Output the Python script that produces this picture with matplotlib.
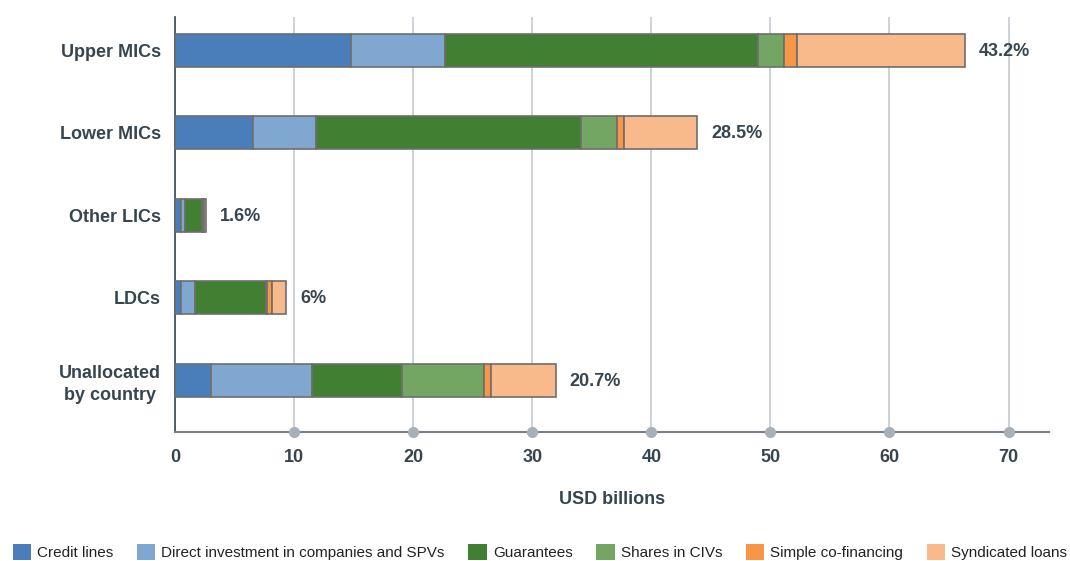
import numpy as np
import matplotlib.pyplot as plt
from matplotlib.patches import Patch

categories = ['Upper MICs', 'Lower MICs', 'Other LICs', 'LDCs', 'Unallocated\nby country']
series_names = ['Credit lines', 'Direct investment in companies and SPVs', 'Guarantees',
                'Shares in CIVs', 'Simple co-financing', 'Syndicated loans']
credit_lines = [14.76, 6.54, 0.48, 0.50, 3.00]
direct_invest = [7.91, 5.27, 0.33, 1.21, 8.53]
guarantees = [26.29, 22.28, 1.46, 5.92, 7.49]
shares_civs = [2.14, 3.01, 0.10, 0.07, 6.93]
simple_cofin = [1.15, 0.60, 0.10, 0.44, 0.62]
syndicated = [14.11, 6.16, 0.14, 1.18, 5.42]
share_labels = ['43.2%', '28.5%', '1.6%', '6%', '20.7%']
x_ticks = [0, 10, 20, 30, 40, 50, 60, 70]

colors = ['#4a7ebb', '#80a7d0', '#417f32', '#73a663', '#f79646', '#f9ba8b']
text_col = '#36454f'

plt.rcParams['font.family'] = ['Liberation Sans', 'DejaVu Sans']

fig = plt.figure(figsize=(10.7, 5.61), dpi=100)
ax = fig.add_axes([0.1636, 0.2299, 0.8168, 0.7398])

series = [credit_lines, direct_invest, guarantees, shares_civs, simple_cofin, syndicated]
y = np.arange(len(categories))
left = np.zeros(len(categories))
for vals, col in zip(series, colors):
    ax.barh(y, vals, left=left, height=0.4, color=col, edgecolor='#6e6e6e',
            linewidth=1.2, zorder=3)
    left += np.array(vals)

# share of total written after each bar
for yi, total, lab in zip(y, left, share_labels):
    ax.annotate(lab, (total, yi), xytext=(10, -1), textcoords='offset points',
                va='center', ha='left', fontsize=13, fontweight='bold', color=text_col)

ax.set_xlim(0, 73.4)
ax.set_ylim(4.63, -0.4)
ax.set_yticks(y)
ax.set_yticklabels(categories, fontsize=13, fontweight='bold', color=text_col,
                   multialignment='center', linespacing=1.35)
ax.set_xticks(x_ticks)
ax.set_xticklabels([str(t) for t in x_ticks], fontsize=13, fontweight='bold', color=text_col)
ax.tick_params(axis='y', length=0, pad=10)
ax.tick_params(axis='x', length=0, pad=12)

ax.grid(axis='x', color='#c3cbd2', linewidth=1.2, zorder=0)
for t in x_ticks[1:]:
    ax.plot(t, 4.63, 'o', color='#a7b0b7', markersize=7, clip_on=False, zorder=5)

for s in ['top', 'right']:
    ax.spines[s].set_visible(False)
ax.spines['left'].set_color('#3a4750')
ax.spines['left'].set_linewidth(1.2)
ax.spines['bottom'].set_color('#7a8087')
ax.spines['bottom'].set_linewidth(1.5)

ax.set_xlabel('USD billions', fontsize=13, fontweight='bold', color=text_col, labelpad=18)

handles = [Patch(facecolor=c, edgecolor='none') for c in colors]
fig.legend(handles, series_names, loc='center', bbox_to_anchor=(0.5 + 5 / 1070, 1 - 552 / 561),
           ncol=6, frameon=False, fontsize=11, handlelength=1.2, handleheight=1.2,
           handletextpad=0.4, columnspacing=1.55, labelcolor='#222222',
           borderpad=0, borderaxespad=0)

fig.savefig('out.png', dpi=100)
